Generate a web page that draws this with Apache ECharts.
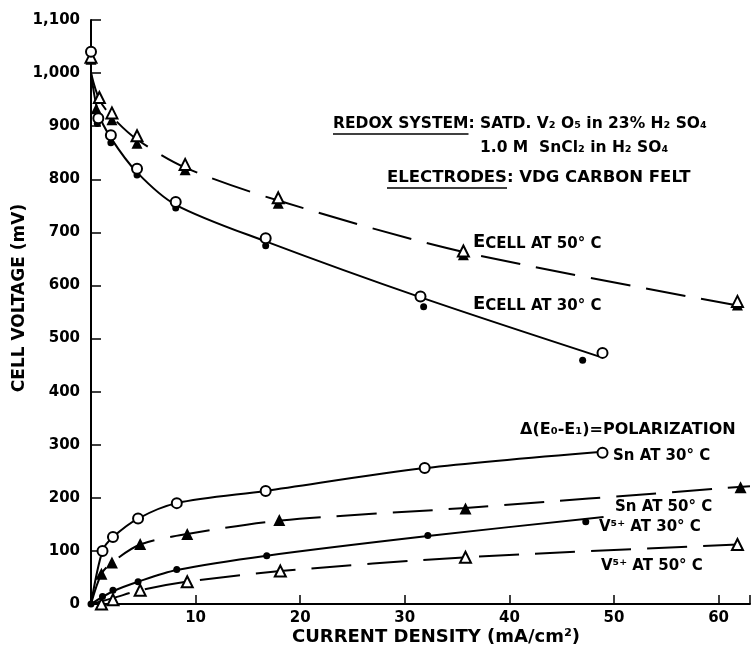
<!DOCTYPE html>
<html>
<head>
<meta charset="utf-8">
<script src="https://cdn.jsdelivr.net/npm/echarts@6/dist/echarts.min.js"></script>
<style>html,body{margin:0;padding:0;background:#fff}#c{width:752px;height:650px}</style>
</head>
<body>
<div id="c"></div>
<script>
// ---- data ----
const xTicks = [10, 20, 30, 40, 50, 60];
const yTicks = [0, 100, 200, 300, 400, 500, 600, 700, 800, 900, 1000, 1100];

// Cell voltage at 30 C (open circles and filled dots)
const ecell30Open  = [[0,1040],[0.7,915],[1.9,883],[4.4,820],[8.1,757],[16.7,689],[31.5,579],[48.9,473]];
const ecell30Dot   = [[0.6,905],[1.9,869],[4.4,808],[8.1,746],[16.7,675],[31.8,560],[47.0,459]];
const ecell30Curve = [[0,1000],[0.7,925],[1.9,878],[4.4,813],[8.1,752],[16.7,683],[31.6,577],[48.6,466]];

// Cell voltage at 50 C (open and filled triangles)
const ecell50Open  = [[0,1030],[0.8,954],[2.0,925],[4.4,882],[9.0,828],[17.9,765],[35.6,665],[61.8,570]];
const ecell50Fill  = [[0,1026],[0.5,933],[2.0,912],[4.4,868],[9.0,818],[17.9,755],[35.6,658],[61.8,563]];
const ecell50Curve = [[0,1000],[0.8,950],[2.0,918],[4.4,875],[9.0,822],[17.9,760],[35.6,663],[63,558]];

// Polarization
const sn30Pts   = [[1.1,100],[2.1,126],[4.5,161],[8.2,190],[16.7,213],[31.9,256],[48.9,285]];
const sn30Curve = [[0,0],[1.1,100],[2.1,126],[4.5,161],[8.2,190],[16.7,213],[31.9,256],[48.9,287]];
const sn50Pts   = [[1.0,57],[2.0,78],[4.7,113],[9.2,132],[18.0,158],[35.8,180],[62.1,220]];
const sn50Curve = [[0,0],[1.0,57],[2.0,78],[4.7,112],[9.2,132],[18.0,157],[35.8,181],[63,222]];
const v30Pts    = [[0,0],[1.1,14],[2.1,26],[4.5,42],[8.2,65],[16.8,91],[32.2,129],[47.3,155]];
const v30Curve  = [[0,0],[2.1,24],[4.5,42],[8.2,64],[16.8,91],[32.2,128],[49,164]];
const v50Pts    = [[1.0,0],[2.1,8],[4.7,26],[9.2,42],[18.1,62],[35.8,88],[61.8,112]];
const v50Curve  = [[0,0],[2.1,11],[4.7,26],[9.2,42],[18.1,62],[35.8,88],[61.8,112]];

const FONT = 'DejaVu Sans';
const chart = echarts.init(document.getElementById('c'), null, {renderer:'canvas'});

function curve(data, dashed){
  return {type:'line', data, smooth:0.3, showSymbol:false, symbol:'none',
    silent:true, z:2,
    lineStyle:{color:'#000', width:2, type: dashed ? [40,16] : 'solid'}};
}
function pts(data, symbol, filled, size){
  return {type:'scatter', data, symbol, symbolSize:size, z:5, silent:true,
    itemStyle:{color: filled ? '#000' : '#fff', borderColor:'#000', borderWidth: filled ? 0 : 2, opacity:1}};
}
const ctx = document.createElement('canvas').getContext('2d');
function tw(s, size){ ctx.font = 'bold ' + size + 'px "' + FONT + '"'; return ctx.measureText(s).width; }
function T(text, size){ return {text, fontFamily:FONT, fontWeight:'bold', fill:'#000', fontSize:size}; }

const ecRich = {e:{fontFamily:FONT,fontWeight:'bold',fontSize:18,fill:'#000'},
                s:{fontFamily:FONT,fontWeight:'bold',fontSize:15,fill:'#000', padding:[5,0,0,0]}};

const redoxX = 333, redoxY = 116, elecX = 387, elecY = 169;
const redoxSize = 15.5, elecSize = 16.5;

chart.setOption({
  animation:false,
  backgroundColor:'#fff',
  grid:{left:91, right:2, top:20, bottom:46, containLabel:false, outerBoundsMode:'none'},
  xAxis:{type:'value', min:0, max:63, interval:10,
    axisLine:{show:true, onZero:false, lineStyle:{color:'#000', width:2}},
    axisTick:{show:true, inside:true, length:9, lineStyle:{color:'#000', width:1.5}},
    splitLine:{show:false},
    axisLabel:{color:'#000', fontFamily:FONT, fontWeight:'bold', fontSize:15, margin:7,
      formatter:v => xTicks.includes(v) ? String(v) : ''}
  },
  yAxis:{type:'value', min:0, max:1100, interval:100,
    axisLine:{show:true, lineStyle:{color:'#000', width:2}},
    axisTick:{show:true, inside:true, length:10, lineStyle:{color:'#000', width:1.5}},
    splitLine:{show:false},
    axisLabel:{color:'#000', fontFamily:FONT, fontWeight:'bold', fontSize:15, margin:11,
      formatter:v => yTicks.includes(v) ? v.toLocaleString('en-US') : ''}
  },
  series:[
    curve(ecell30Curve,false), curve(ecell50Curve,true),
    curve(sn30Curve,false), curve(sn50Curve,true),
    curve(v30Curve,false), curve(v50Curve,true),
    pts(ecell50Fill,'triangle',true,11), pts(ecell50Open,'triangle',false,11),
    pts(ecell30Dot,'circle',true,7), pts(ecell30Open,'circle',false,10),
    pts(sn30Pts,'circle',false,10), pts(sn50Pts,'triangle',true,12),
    pts(v30Pts,'circle',true,7), pts(v50Pts,'triangle',false,11)
  ],
  graphic:[
    {type:'text', x:20, y:298, rotation:Math.PI/2,
      style:Object.assign(T('CELL VOLTAGE (mV)',17), {align:'center', verticalAlign:'middle'})},
    {type:'text', x:436, y:637,
      style:Object.assign(T('CURRENT DENSITY (mA/cm²)',18), {align:'center', verticalAlign:'middle'})},
    {type:'text', left:redoxX, top:redoxY, style:T('REDOX SYSTEM: SATD. V₂ O₅ in 23% H₂ SO₄', redoxSize)},
    {type:'text', left:480, top:140, style:T('1.0 M  SnCl₂ in H₂ SO₄', 15.5)},
    {type:'text', left:elecX, top:elecY, style:T('ELECTRODES: VDG CARBON FELT', elecSize)},
    {type:'line', shape:{x1:redoxX, y1:redoxY+18, x2:redoxX+tw('REDOX SYSTEM',redoxSize), y2:redoxY+18}, style:{stroke:'#000', lineWidth:1.5}},
    {type:'line', shape:{x1:elecX, y1:elecY+19, x2:elecX+tw('ELECTRODES',elecSize), y2:elecY+19}, style:{stroke:'#000', lineWidth:1.5}},
    {type:'text', left:473, top:233, style:{text:'{e|E}{s|CELL AT 50° C}', rich:ecRich}},
    {type:'text', left:473, top:295, style:{text:'{e|E}{s|CELL AT 30° C}', rich:ecRich}},
    {type:'text', left:520, top:422, style:T('Δ(E₀-E₁)=POLARIZATION', 16)},
    {type:'text', left:613, top:449, style:T('Sn AT 30° C', 15)},
    {type:'text', left:615, top:500, style:T('Sn AT 50° C', 15)},
    {type:'text', left:599, top:520, style:T('V⁵⁺ AT 30° C', 15)},
    {type:'text', left:601, top:559, style:T('V⁵⁺ AT 50° C', 15)}
  ]
});
</script>
</body>
</html>
